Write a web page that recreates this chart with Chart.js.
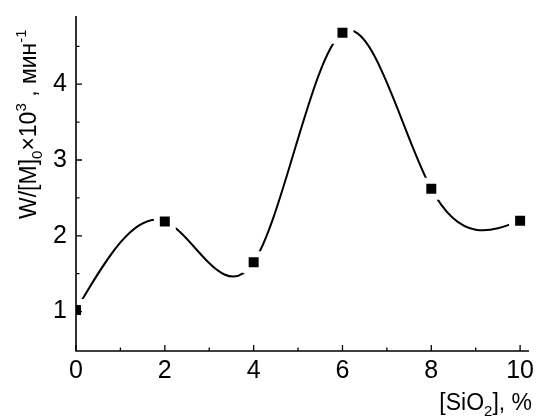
<!DOCTYPE html>
<html>
<head>
<meta charset="utf-8">
<script src="https://cdn.jsdelivr.net/npm/chart.js@4.4.0/dist/chart.umd.min.js"></script>
<style>
    html, body { margin: 0; padding: 0; background: #fff; }
    #wrap { width: 537px; height: 419px; }
</style>
</head>
<body>
<div id="wrap"><canvas id="chart"></canvas></div>
<script>
// SiO2 content (%) vs. W/[M]0 x 10^3 (min^-1)
const silicaPct = [0, 2, 4, 6, 8, 10];
const rateValues = [1.02, 2.19, 1.65, 4.68, 2.62, 2.20];

const xMajorTicks = [0, 2, 4, 6, 8, 10];
const xMinorTicks = [1, 3, 5, 7, 9];
const yMajorTicks = [1, 2, 3, 4];
const yMinorTicks = [1.5, 2.5, 3.5, 4.5];

const FONT = 'Arial, "Liberation Sans", sans-serif';
const TITLE_SIZE = 23;
const SCRIPT_SIZE = 15;

/**
 * Natural cubic spline slopes at the knots (data space)
 */
function naturalSlopes(xs, ys) {
    const n = xs.length - 1;
    const h = [], M = new Array(n + 1).fill(0);
    for (let i = 0; i < n; i++) h.push(xs[i + 1] - xs[i]);
    // tridiagonal solve for second derivatives, M0 = Mn = 0
    const a = [], b = [], c = [], d = [];
    for (let i = 1; i < n; i++) {
        a.push(h[i - 1]);
        b.push(2 * (h[i - 1] + h[i]));
        c.push(h[i]);
        d.push(6 * ((ys[i + 1] - ys[i]) / h[i] - (ys[i] - ys[i - 1]) / h[i - 1]));
    }
    const m = b.length;
    for (let i = 1; i < m; i++) {
        const w = a[i] / b[i - 1];
        b[i] -= w * c[i - 1];
        d[i] -= w * d[i - 1];
    }
    const sol = new Array(m);
    for (let i = m - 1; i >= 0; i--) {
        sol[i] = (d[i] - (i < m - 1 ? c[i] * sol[i + 1] : 0)) / b[i];
    }
    sol.forEach((v, i) => { M[i + 1] = v; });
    const slopes = [];
    for (let i = 0; i < n; i++) {
        slopes.push((ys[i + 1] - ys[i]) / h[i] - h[i] * (2 * M[i] + M[i + 1]) / 6);
    }
    slopes.push((ys[n] - ys[n - 1]) / h[n - 1] + h[n - 1] * (M[n - 1] + 2 * M[n]) / 6);
    return slopes;
}

/**
 * Replace Chart.js bezier control points with ones from a natural spline
 */
const splinePlugin = {
    id: 'naturalSpline',
    beforeDatasetDraw(chart, args) {
        const meta = args.meta;
        const xs = meta.iScale, ys = meta.vScale;
        const pts = meta.data;
        const slopes = naturalSlopes(silicaPct, rateValues);
        pts.forEach((p, i) => {
            const x0 = silicaPct[i], y0 = rateValues[i];
            if (i > 0) {
                const hb = (x0 - silicaPct[i - 1]) / 3;
                p.cp1x = xs.getPixelForValue(x0 - hb);
                p.cp1y = ys.getPixelForValue(y0 - slopes[i] * hb);
            } else {
                p.cp1x = p.x; p.cp1y = p.y;
            }
            if (i < pts.length - 1) {
                const hf = (silicaPct[i + 1] - x0) / 3;
                p.cp2x = xs.getPixelForValue(x0 + hf);
                p.cp2y = ys.getPixelForValue(y0 + slopes[i] * hf);
            } else {
                p.cp2x = p.x; p.cp2y = p.y;
            }
        });
        meta.dataset._pointsUpdated = true;
    }
};

function drawPieces(ctx, pieces, x) {
    pieces.forEach(p => {
        const size = p.mode ? SCRIPT_SIZE : TITLE_SIZE;
        const dy = p.mode === 'sub' ? 6 : p.mode === 'sup' ? -10 : 0;
        ctx.font = size + 'px ' + FONT;
        ctx.fillText(p.text, x, dy);
        x += ctx.measureText(p.text).width;
    });
    return x;
}

function piecesWidth(ctx, pieces) {
    let w = 0;
    pieces.forEach(p => {
        ctx.font = (p.mode ? SCRIPT_SIZE : TITLE_SIZE) + 'px ' + FONT;
        w += ctx.measureText(p.text).width;
    });
    return w;
}

const yTitle = [
    { text: 'W/[M]' }, { text: '0', mode: 'sub' }, { text: '\u00d710' },
    { text: '3', mode: 'sup' }, { text: ' , \u043c\u0438\u043d' }, { text: '-1', mode: 'sup' }
];
const xTitle = [{ text: '[SiO' }, { text: '2', mode: 'sub' }, { text: '], %' }];

/**
 * Axes with inward ticks, plus the axis titles with sub/superscripts
 */
const framePlugin = {
    id: 'frame',
    afterDatasetsDraw(chart) {
        const { ctx, chartArea: a, scales: { x, y } } = chart;
        ctx.save();
        ctx.strokeStyle = '#000';
        ctx.lineWidth = 1.6;
        ctx.beginPath();
        ctx.moveTo(a.left, a.top);
        ctx.lineTo(a.left, a.bottom);
        ctx.lineTo(a.right, a.bottom);
        ctx.stroke();

        ctx.lineWidth = 1.3;
        ctx.beginPath();
        xMajorTicks.forEach(v => { const px = x.getPixelForValue(v); ctx.moveTo(px, a.bottom); ctx.lineTo(px, a.bottom - 6); });
        xMinorTicks.forEach(v => { const px = x.getPixelForValue(v); ctx.moveTo(px, a.bottom); ctx.lineTo(px, a.bottom - 3.5); });
        yMajorTicks.forEach(v => { const py = y.getPixelForValue(v); ctx.moveTo(a.left, py); ctx.lineTo(a.left + 6, py); });
        yMinorTicks.forEach(v => { const py = y.getPixelForValue(v); ctx.moveTo(a.left, py); ctx.lineTo(a.left + 3.5, py); });
        ctx.stroke();
        ctx.restore();
    },
    afterDraw(chart) {
        const ctx = chart.ctx;
        ctx.save();
        ctx.fillStyle = '#000';
        ctx.textBaseline = 'alphabetic';
        ctx.textAlign = 'left';

        ctx.save();
        ctx.translate(36, 219);
        ctx.rotate(-Math.PI / 2);
        drawPieces(ctx, yTitle, 0);
        ctx.restore();

        ctx.save();
        const w = piecesWidth(ctx, xTitle);
        ctx.translate(532 - w, 410);
        drawPieces(ctx, xTitle, 0);
        ctx.restore();

        ctx.restore();
    }
};

const ctx = document.getElementById('chart').getContext('2d');

new Chart(ctx, {
    type: 'line',
    data: {
        datasets: [{
            data: silicaPct.map((v, i) => ({ x: v, y: rateValues[i] })),
            borderColor: '#000',
            borderWidth: 2,
            tension: 0.4,
            fill: false,
            clip: 0,
            pointStyle: 'rect',
            pointRadius: 11.3,
            pointHoverRadius: 11.3,
            pointBackgroundColor: '#000',
            pointBorderColor: '#fff',
            pointBorderWidth: 6
        }]
    },
    options: {
        responsive: true,
        maintainAspectRatio: false,
        animation: false,
        events: [],
        layout: {
            autoPadding: false,
            padding: { top: 16, right: 8, bottom: 0, left: 0 }
        },
        plugins: {
            legend: { display: false },
            tooltip: { enabled: false }
        },
        scales: {
            x: {
                type: 'linear',
                min: 0,
                max: 10.2,
                afterBuildTicks: scale => { scale.ticks = xMajorTicks.map(v => ({ value: v })); },
                afterFit: scale => {
                    scale.height = 68;
                    scale.paddingLeft = 0; scale.paddingRight = 0;
                },
                grid: { display: false, drawTicks: false },
                border: { display: false },
                ticks: {
                    color: '#000',
                    padding: 5,
                    maxRotation: 0,
                    autoSkip: false,
                    font: { family: FONT, size: 25 }
                }
            },
            y: {
                type: 'linear',
                min: 0.48,
                max: 4.9,
                afterBuildTicks: scale => { scale.ticks = yMajorTicks.map(v => ({ value: v })); },
                afterFit: scale => {
                    scale.width = 76;
                    scale.paddingTop = 0; scale.paddingBottom = 0;
                },
                grid: { display: false, drawTicks: false },
                border: { display: false },
                ticks: {
                    color: '#000',
                    padding: 9,
                    autoSkip: false,
                    font: { family: FONT, size: 25 }
                }
            }
        }
    },
    plugins: [splinePlugin, framePlugin]
});
</script>
</body>
</html>
